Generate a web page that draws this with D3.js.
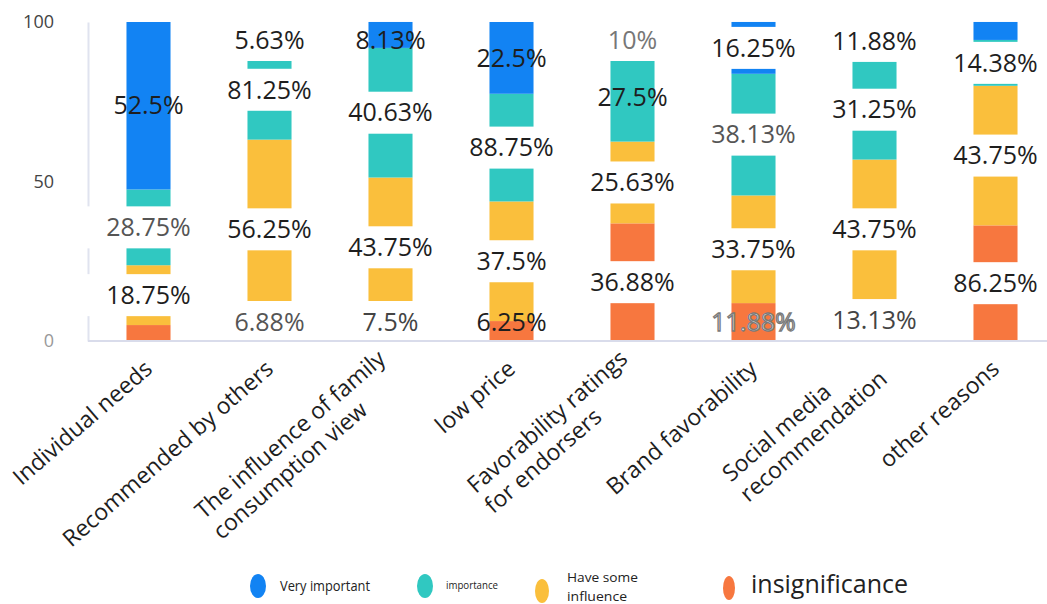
<!DOCTYPE html>
<html>
<head>
<meta charset="utf-8">
<script src="https://cdn.jsdelivr.net/npm/d3@7"></script>
<style>
  html, body { margin: 0; padding: 0; background: #fff; }
  svg { display: block; font-family: "Open Sans", "Noto Sans", sans-serif; }
</style>
</head>
<body>
<svg id="chart" width="1047" height="604"></svg>
<script>
// Purchase motives: share of respondents per importance level (percent, stacked to 100)
const categories = [
  "Individual needs",
  "Recommended by others",
  "The influence of family\nconsumption view",
  "low price",
  "Favorability ratings\nfor endorsers",
  "Brand favorability",
  "Social media\nrecommendation",
  "other reasons"
];
const seriesKeys  = ["veryImportant", "importance", "someInfluence", "insignificance"];
const seriesNames = ["Very important", "importance", "Have some influence", "insignificance"];

const veryImportant  = [52.5, 5.63, 8.13, 22.5, 10, 16.25, 11.88, 5.63];
const importance     = [23.75, 31.25, 40.63, 33.75, 27.5, 38.13, 31.25, 14.38];
const someInfluence  = [18.75, 56.25, 43.75, 37.5, 25.63, 33.75, 43.75, 43.75];
const insignificance = [5, 6.88, 7.5, 6.25, 36.88, 11.88, 13.13, 36.25];

// value labels as printed on the chart
const veryImportantLabels  = ["52.5%", "5.63%", "8.13%", "22.5%", "10%", "16.25%", "11.88%", "5.63%"];
const importanceLabels     = ["28.75%", "81.25%", "40.63%", "88.75%", "27.5%", "38.13%", "31.25%", "14.38%"];
const someInfluenceLabels  = ["18.75%", "56.25%", "43.75%", "37.5%", "25.63%", "33.75%", "43.75%", "43.75%"];
const insignificanceLabels = ["5%", "6.88%", "7.5%", "6.25%", "36.88%", "11.88%", "13.13%", "86.25%"];

const yTicks = [0, 50, 100];

// ---- styling ----
const colors = {
  veryImportant: "#1283f3",
  importance: "#30c8c1",
  someInfluence: "#fabf3c",
  insignificance: "#f7773f"
};
// labels drawn straight on the bar (no white plate)
const plainLabels = ["veryImportant:0", "veryImportant:2", "veryImportant:3", "insignificance:3", "importance:4", "insignificance:5"];
const mutedLabels = { "importance:0": "#555", "insignificance:1": "#555", "insignificance:2": "#444",
                      "veryImportant:4": "#777", "importance:5": "#555", "insignificance:6": "#444" };
const ghostLabels = ["insignificance:5"];

const W = 1047, H = 604;
const plot = { left: 88, right: 1056, top: 22, bottom: 341 };

const svg = d3.select("#chart");

const x = d3.scaleBand()
  .domain(categories)
  .range([plot.left, plot.right])
  .paddingInner(0.636)
  .paddingOuter(0.318);

const y = d3.scaleLinear().domain([0, 100]).range([plot.bottom, plot.top]);

const rows = categories.map((c, i) => ({
  cat: c,
  veryImportant: veryImportant[i],
  importance: importance[i],
  someInfluence: someInfluence[i],
  insignificance: insignificance[i]
}));
const labelText = {
  veryImportant: veryImportantLabels,
  importance: importanceLabels,
  someInfluence: someInfluenceLabels,
  insignificance: insignificanceLabels
};

// bottom-up stacking: insignificance at the base, very important on top
const stack = d3.stack().keys(seriesKeys.slice().reverse());
const layers = stack(rows);

// y axis line + ticks
const yAxis = d3.axisLeft(y).tickValues(yTicks).tickSize(0).tickPadding(34);
const yg = svg.append("g").attr("transform", `translate(${plot.left},0)`).call(yAxis);
yg.select(".domain").attr("stroke", "#e0e3ef").attr("stroke-width", 2);
yg.selectAll(".tick text")
  .attr("font-size", 18)
  .attr("font-family", "Open Sans, Noto Sans, sans-serif")
  .attr("fill", d => d === 0 ? "#999" : "#444");

// bars
svg.append("g").selectAll("g")
  .data(layers)
  .join("g")
  .attr("fill", d => colors[d.key])
  .selectAll("rect")
  .data(d => d)
  .join("rect")
  .attr("x", d => x(d.data.cat))
  .attr("width", x.bandwidth())
  .attr("y", d => y(d[1]))
  .attr("height", d => y(d[0]) - y(d[1]));

// value labels: centred on their segment, kept inside the plot, overlapping ones dropped
const labels = [];
layers.forEach(layer => {
  layer.forEach((d, i) => {
    const mid = (d[0] + d[1]) / 2;
    const py = Math.max(y(100) + 18, Math.min(y(0) - 19, y(mid)));
    labels.push({
      key: layer.key, i, value: d[1] - d[0],
      text: labelText[layer.key][i],
      cx: x(d.data.cat) + x.bandwidth() / 2,
      cy: py,
      id: layer.key + ":" + i
    });
  });
});
const shown = [];
categories.forEach((c, i) => {
  const col = labels.filter(l => l.i === i).sort((a, b) => b.value - a.value);
  const placed = [];
  col.forEach(l => {
    if (placed.every(p => Math.abs(p.cy - l.cy) >= 40)) { placed.push(l); shown.push(l); }
  });
});

const lg = svg.append("g").attr("font-size", 25);
const items = lg.selectAll("g").data(shown).join("g");
const plates = items.append("rect").attr("fill", "#fff");
const texts = items.append("text")
  .attr("x", d => d.cx)
  .attr("y", d => d.cy)
  .attr("dy", "0.35em")
  .attr("text-anchor", "middle")
  .attr("fill", d => ghostLabels.includes(d.id) ? "#f2f2f2" : (mutedLabels[d.id] || "#1e1e1e"))
  .attr("stroke", d => ghostLabels.includes(d.id) ? "#7a7a7a" : null)
  .attr("stroke-width", d => ghostLabels.includes(d.id) ? 1.3 : null)
  .text(d => d.text);
texts.each(function (d) {
  const b = this.getBBox();
  d.bw = b.width; d.bh = b.height;
});
plates
  .attr("x", d => d.cx - d.bw / 2 - 21)
  .attr("y", d => d.cy - 21)
  .attr("width", d => d.bw + 42)
  .attr("height", 42)
  .attr("display", d => plainLabels.includes(d.id) ? "none" : null);

// x axis baseline
svg.append("line")
  .attr("x1", plot.left).attr("x2", W)
  .attr("y1", y(0)).attr("y2", y(0))
  .attr("stroke", "#d9dceb").attr("stroke-width", 2);

// rotated category labels, lines left-aligned inside a right-anchored block
const catG = svg.append("g").attr("font-size", 23).attr("fill", "#1e1e1e");
categories.forEach(c => {
  const lines = c.split("\n");
  const g = catG.append("g")
    .attr("transform", `translate(${x(c) + x.bandwidth() / 2},365) rotate(-41)`);
  const ts = g.selectAll("text").data(lines).join("text")
    .attr("dy", "0.35em")
    .attr("y", (d, k) => (k - (lines.length - 1) / 2) * 27)
    .text(d => d);
  let wMax = 0;
  ts.each(function () { wMax = Math.max(wMax, this.getComputedTextLength()); });
  ts.attr("x", -wMax).attr("text-anchor", "start");
});

// legend
const legendItems = [
  { key: "veryImportant",  cx: 258, cy: 586, tx: 280, ty: 586, size: 14, lines: ["Very important"], fit: [90], rx: 8 },
  { key: "importance",     cx: 425, cy: 586, tx: 446, ty: 585, size: 10, lines: ["importance"], fit: [52], rx: 8 },
  { key: "someInfluence",  cx: 542, cy: 591, tx: 567, ty: 577, size: 13, lines: ["Have some", "influence"], fit: [71, 60], rx: 7 },
  { key: "insignificance", cx: 729, cy: 588, tx: 751, ty: 584, size: 25, lines: ["insignificance"], fit: null, rx: 6 }
];
const leg = svg.append("g");
legendItems.forEach(it => {
  leg.append("ellipse")
    .attr("cx", it.cx).attr("cy", it.cy)
    .attr("rx", it.rx).attr("ry", 12)
    .attr("fill", colors[it.key]);
  it.lines.forEach((ln, k) => {
    const t = leg.append("text")
      .attr("x", it.tx).attr("y", it.ty + k * 19)
      .attr("dy", "0.35em")
      .attr("font-size", it.size)
      .attr("fill", "#222")
      .text(ln);
    if (it.fit) t.attr("textLength", it.fit[k]).attr("lengthAdjust", "spacingAndGlyphs");
  });
});
</script>
</body>
</html>
